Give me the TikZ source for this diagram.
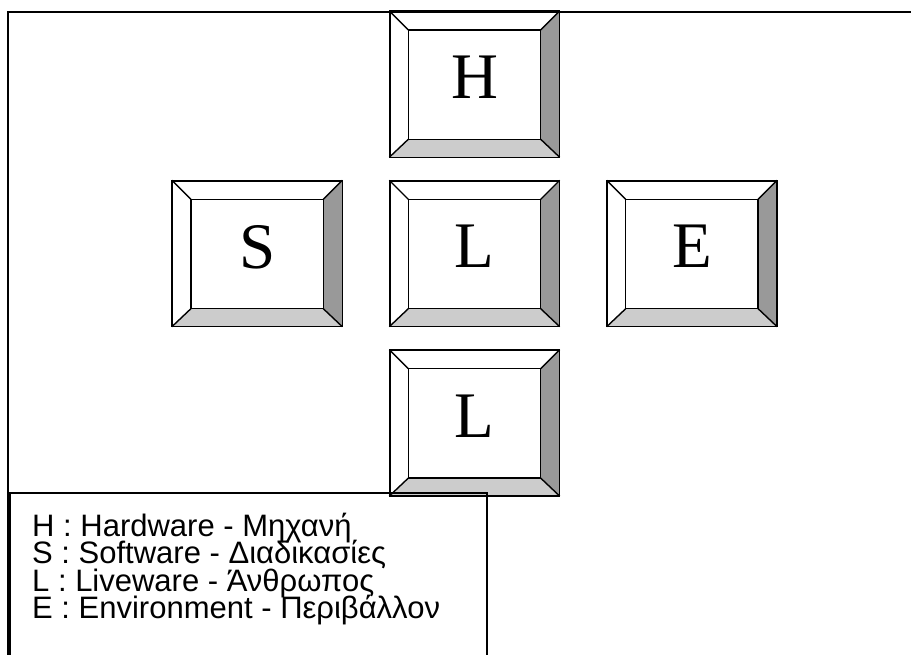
\documentclass[tikz,border=0pt]{standalone}
\usepackage{fontspec}
\setmainfont{Liberation Serif}
\newfontfamily\legendfont{Liberation Sans}
\newcommand\legendsetup{\legendfont\fontsize{31}{27.5}\selectfont\lineskiplimit=-30pt\relax}
\usetikzlibrary{positioning, calc}
\definecolor{keydark}{RGB}{153,153,153}
\definecolor{keylight}{RGB}{204,204,204}

\begin{document}
\begin{tikzpicture}[
		x=1pt, y=-1pt,
		node distance=23pt and 47pt,
		keycap/.style={draw, line width=1.4pt, minimum width=169pt, minimum height=145pt,
			inner sep=0pt, text depth=14pt, font=\fontsize{65}{65}\selectfont},
		bevel/.style={line width=1.4pt, line join=miter},
		legendtext/.style={anchor=base west, inner sep=0pt, align=left, font=\legendsetup}
	]
		\useasboundingbox (0,0) rectangle (911,655);
		% outer frame
		\draw[line width=1.6pt] (8,660) -- (8,12) -- (915,12);

		% keys
		\node[keycap] (live) at (474.5,253.5) {L};
		\node[keycap, above=of live] (hard) {H};
		\node[keycap, below=of live] (liveb) {L};
		\node[keycap, left=of live] (soft) {S};
		\node[keycap, right=of live] (env) {E};

		\foreach \k in {hard, live, liveb, soft, env} {
			\coordinate (\k-a) at ($(\k.north west)+(19,19)$);
			\coordinate (\k-b) at ($(\k.north east)+(-19,19)$);
			\coordinate (\k-c) at ($(\k.south east)+(-19,-18)$);
			\coordinate (\k-d) at ($(\k.south west)+(19,-18)$);
			\fill[keydark] (\k.north east) -- (\k.south east) -- (\k-c) -- (\k-b) -- cycle;
			\fill[keylight] (\k.south west) -- (\k.south east) -- (\k-c) -- (\k-d) -- cycle;
			\draw[bevel] (\k-a) rectangle (\k-c);
			\draw[bevel] (\k.north west) -- (\k-a) (\k.north east) -- (\k-b)
				(\k.south east) -- (\k-c) (\k.south west) -- (\k-d);
			\draw[bevel] (\k.north west) rectangle (\k.south east);
		}

		% legend (base = last line)
		\draw[line width=1.6pt] (10,660) -- (10,493) -- (487,493) -- (487,660);
		\node[legendtext] (legend) at (32,618.5) {H : Hardware - Μηχανή\\
			S : Software - Διαδικασίες\\
			L : Liveware - Άνθρωπος\\
			E : Environment - Περιβάλλον};
	\end{tikzpicture}
\end{document}
